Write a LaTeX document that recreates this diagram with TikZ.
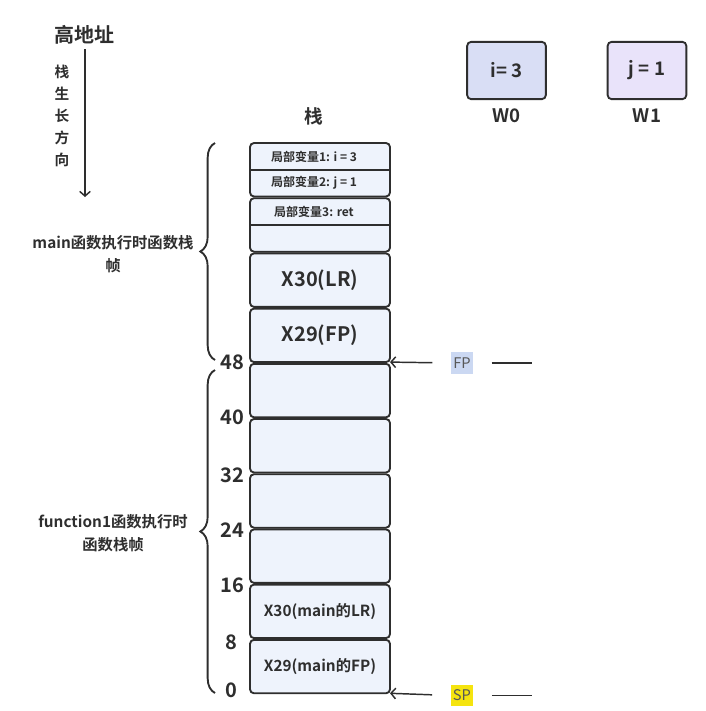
\documentclass[tikz,border=0pt]{standalone}
\usepackage{fontspec}
\setmainfont{Noto Sans CJK SC}[BoldFont={Noto Sans CJK SC Bold}]
\usepackage{tikz}
\usetikzlibrary{calc}
\usetikzlibrary{arrows.meta,positioning,decorations.pathreplacing}

\definecolor{ink}{HTML}{2E2E2E}
\definecolor{cellbg}{HTML}{EEF3FC}
\definecolor{wzero}{HTML}{D9DEF5}
\definecolor{wone}{HTML}{E9E3FA}
\definecolor{fpbg}{HTML}{CBD8F2}
\definecolor{spbg}{HTML}{F5E40F}

\begin{document}
\begin{tikzpicture}[x=0.75pt,y=-0.75pt,color=ink,node distance=1.3pt,>={Straight Barb[length=3.5pt,width=8pt]}]
      \tikzstyle{cell}=[draw,fill=cellbg,line width=1.4pt,rounded corners=3pt,minimum width=105pt,minimum height=40.1pt,inner sep=0pt,outer sep=0pt]
      \tikzstyle{small}=[font=\bfseries\fontsize{9}{9}\selectfont]
      \tikzstyle{big}=[font=\bfseries\fontsize{15}{15}\selectfont]
      \tikzstyle{mid}=[font=\bfseries\fontsize{11.5}{11.5}\selectfont]
      \tikzstyle{num}=[font=\bfseries\fontsize{15}{15}\selectfont]
      \tikzstyle{side}=[align=center,font=\bfseries\fontsize{11.5}{17}\selectfont]
      \tikzstyle{reg}=[draw,line width=1.4pt,rounded corners=3pt,minimum width=59pt,minimum height=43pt,font=\bfseries\fontsize{14}{14}\selectfont]
      \tikzstyle{regname}=[font=\bfseries\fontsize{14}{14}\selectfont]
      \tikzstyle{tag}=[text=ink!80,inner xsep=1.5pt,minimum height=16pt,font=\fontsize{11}{11}\selectfont]

      \useasboundingbox (0,0) rectangle (706,711);

      % growth direction
      \node[font=\bfseries\fontsize{15}{15}\selectfont] (hi) at (85,35) {高地址};
      \coordinate (grow) at (85,197);
      \draw[->,line width=1.1pt] (hi.south) -- (grow);
      \node[align=center,font=\bfseries\fontsize{11}{16.5}\selectfont] (dir) at (62,116) {栈\\生\\长\\方\\向};

      % stack
      \node[font=\bfseries\fontsize{14}{14}\selectfont] (title) at (314,116) {栈};
      \node[cell] (s1) at (320,169.75) {};
      \node[cell,below = of s1] (s2) {};
      \node[cell,below = of s2,big] (s3) {X30(LR)};
      \node[cell,below = of s3,big] (s4) {X29(FP)};
      \node[cell,below = of s4] (s5) {};
      \node[cell,below = of s5] (s6) {};
      \node[cell,below = of s6] (s7) {};
      \node[cell,below = of s7] (s8) {};
      \node[cell,below = of s8,mid] (s9) {X30(main的LR)};
      \node[cell,below = of s9,mid] (s10) {X29(main的FP)};

      \draw[line width=1.4pt] (s1.west)--(s1.east);
      \draw[line width=1.4pt] (s2.west)--(s2.east);
      \node[small] (v1) at ([xshift=-4.5pt]$(s1.north)!0.25!(s1.south)$) {局部变量1: i = 3};
      \node[small] (v2) at ([xshift=-4.5pt]$(s1.north)!0.75!(s1.south)$) {局部变量2: j = 1};
      \node[small] (v3) at ([xshift=-4.5pt]$(s2.north)!0.25!(s2.south)$) {局部变量3: ret};

      % offsets
      \node[num] (n48) at ([xshift=-13.5pt]s4.south west) {48};
      \node[num] (n40) at ([xshift=-13.5pt]s5.south west) {40};
      \node[num] (n32) at ([xshift=-13.5pt,yshift=-2pt]s6.south west) {32};
      \node[num] (n24) at ([xshift=-13.5pt,yshift=-2pt]s7.south west) {24};
      \node[num] (n16) at ([xshift=-13.5pt,yshift=-2pt]s8.south west) {16};
      \node[num] (n8) at ([xshift=-14pt,yshift=-3pt]s9.south west) {8};
      \node[num] (n0) at ([xshift=-14pt,yshift=2pt]s10.south west) {0};

      % frames
      \coordinate (b1top) at (215,143);
      \coordinate (b1bot) at (215,360);
      \coordinate (b2top) at (215,370);
      \coordinate (b2bot) at (215,693);
      \draw[line width=1.4pt,decorate,decoration={brace,amplitude=11pt}] (b1bot) -- (b1top);
      \draw[line width=1.4pt,decorate,decoration={brace,amplitude=11pt}] (b2bot) -- (b2top);
      \node[side] (mainlbl) at (113,254) {main函数执行时函数栈\\帧};
      \node[side] (funlbl) at (113,533) {function1函数执行时\\函数栈帧};

      % registers
      \node[reg,fill=wzero] (w0) at (506.5,70.5) {i= 3};
      \node[reg,fill=wone] (w1) at (647,70.5) {j = 1};
      \node[regname,below=3pt of w0] (w0name) {W0};
      \node[regname,below=3pt of w1] (w1name) {W1};

      % pointers
      \node[tag,fill=fpbg] (fp) at (462,363) {FP};
      \node[tag,fill=spbg] (sp) at (462,695.5) {SP};
      \coordinate (fpend) at (532,363);
      \coordinate (spend) at (532,695.5);
      \draw[->,line width=1.1pt,shorten <=14pt] (fp.west) -- (s4.south east);
      \draw[line width=1.1pt,shorten <=14pt] (fp.east) -- (fpend);
      \draw[->,line width=1.1pt,shorten <=14pt] (sp.west) -- (s10.south east);
      \draw[line width=1.1pt,shorten <=14pt] (sp.east) -- (spend);
    \end{tikzpicture}
\end{document}
